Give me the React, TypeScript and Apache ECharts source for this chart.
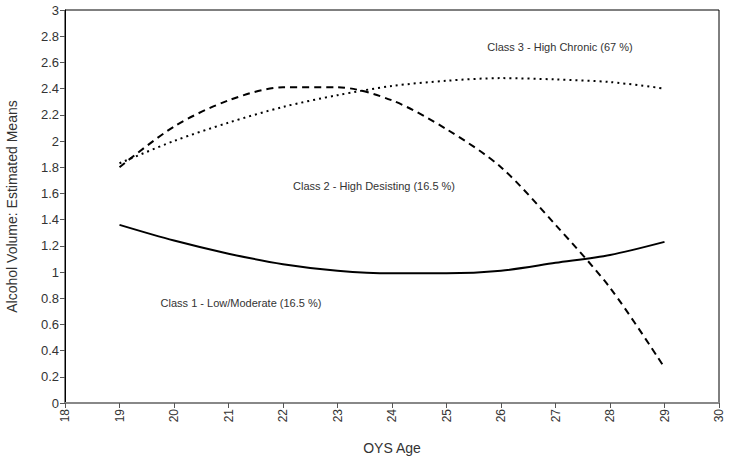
import React, { useEffect, useRef } from "react";
import * as echarts from "echarts";

const ages = [19, 20, 21, 22, 23, 24, 25, 26, 27, 28, 29];
const class1 = [1.36, 1.24, 1.14, 1.06, 1.01, 0.99, 0.99, 1.01, 1.07, 1.13, 1.23];
const class2 = [1.8, 2.11, 2.31, 2.41, 2.41, 2.31, 2.09, 1.8, 1.36, 0.88, 0.27];
const class3 = [1.83, 2.0, 2.14, 2.26, 2.35, 2.42, 2.46, 2.48, 2.47, 2.45, 2.4];
const labels = [
  { text: "Class 3 - High Chronic (67 %)", x: 560, y: 47 },
  { text: "Class 2 - High Desisting (16.5 %)", x: 374, y: 186 },
  { text: "Class 1 - Low/Moderate (16.5 %)", x: 241, y: 303 },
];

const FONT = "'Liberation Sans', Arial, sans-serif";

export default function App() {
  const ref = useRef<HTMLDivElement>(null);
  useEffect(() => {
    const chart = echarts.init(ref.current!, null, { renderer: "svg" });
    const mk = (name: string, vals: number[], type: any) => ({
      name,
      type: "line",
      data: ages.map((a, i) => [a, vals[i]]),
      smooth: 0.3,
      symbol: "none",
      lineStyle: { color: "#000", width: 2, type },
    });
    chart.setOption({
      animation: false,
      backgroundColor: "#fff",
      grid: {
        left: 65,
        right: 10,
        top: 10,
        bottom: 56,
        show: true,
        borderColor: "#000",
        borderWidth: 1,
        containLabel: false,
        outerBoundsMode: "none",
      },
      xAxis: {
        type: "value",
        min: 18,
        max: 30,
        interval: 1,
        name: "OYS Age",
        nameLocation: "middle",
        nameGap: 38,
        nameTextStyle: { fontFamily: FONT, fontSize: 14, color: "#333" },
        axisLine: { show: true, lineStyle: { color: "#888", width: 2 } },
        axisTick: { show: true, length: 5, lineStyle: { color: "#555" } },
        axisLabel: { rotate: 90, fontFamily: FONT, fontSize: 12, color: "#333", margin: 6 },
        splitLine: { show: false },
      },
      yAxis: {
        type: "value",
        min: 0,
        max: 3,
        interval: 0.2,
        name: "Alcohol Volume: Estimated Means",
        nameLocation: "middle",
        nameGap: 46,
        nameTextStyle: { fontFamily: FONT, fontSize: 14, color: "#333" },
        axisLine: { show: true, lineStyle: { color: "#000", width: 1 } },
        axisTick: { show: true, length: 5, lineStyle: { color: "#555" } },
        axisLabel: {
          fontFamily: FONT,
          fontSize: 13,
          color: "#333",
          margin: 6,
          formatter: (v: number) => String(Math.round(v * 10) / 10),
        },
        splitLine: { show: false },
      },
      series: [
        mk("Class 1 - Low/Moderate (16.5 %)", class1, "solid"),
        mk("Class 2 - High Desisting (16.5 %)", class2, [7, 5]),
        mk("Class 3 - High Chronic (67 %)", class3, [2, 4]),
      ],
      graphic: labels.map((l) => ({
        type: "text",
        x: l.x,
        y: l.y,
        style: {
          text: l.text,
          fontFamily: FONT,
          fontSize: 11,
          fill: "#333",
          align: "center",
          verticalAlign: "middle",
        },
      })),
    });
    return () => chart.dispose();
  }, []);
  return <div ref={ref} style={{ width: 729, height: 459, position: "absolute", left: 0, top: 0 }} />;
}
